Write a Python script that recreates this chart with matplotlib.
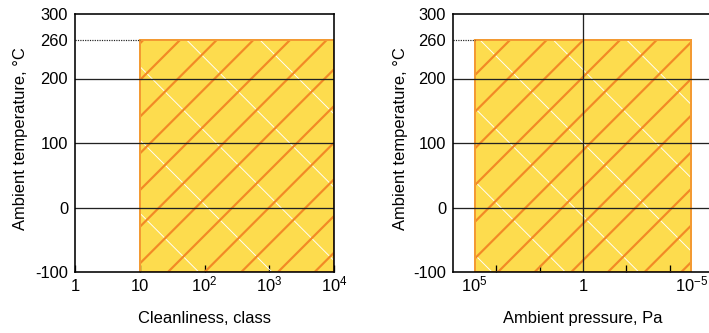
import matplotlib
matplotlib.use("Agg")
import matplotlib.pyplot as plt
from matplotlib.patches import Rectangle

# data
temp_ticks = [-100, 0, 100, 200, 260, 300]
temp_grid = [0, 100, 200]
temp_range = [-100, 260]

clean_ticks = [1, 10, 1e2, 1e3, 1e4]
clean_labels = ["1", "10", "$10^{2}$", "$10^{3}$", "$10^{4}$"]
clean_range = [10, 1e4]

press_ticks = [1e5, 1, 1e-5]
press_labels = ["$10^{5}$", "1", "$10^{-5}$"]
press_minor = [1e4, 1e2, 1e-2, 1e-4]
press_range = [1e5, 1e-5]

DPI = 220
def pt(px):
    return px * 72.0 / DPI

plt.rcParams['font.family'] = ['Liberation Sans', 'DejaVu Sans']
plt.rcParams['mathtext.fontset'] = 'custom'
plt.rcParams['mathtext.rm'] = 'Liberation Sans'
plt.rcParams['mathtext.default'] = 'regular'
plt.rcParams['hatch.linewidth'] = pt(2.2)

FS = pt(16.5)
yellow = '#fddc4e'
orange = '#f28a26'

fig = plt.figure(figsize=(709 / DPI, 333 / DPI), dpi=DPI)
ax1 = fig.add_axes([75 / 709, 61 / 333, 259 / 709, 258 / 333])
ax2 = fig.add_axes([453 / 709, 61 / 333, 260 / 709, 258 / 333])


def region(ax, xr, yr):
    xy = (xr[0], yr[0])
    w = xr[1] - xr[0]
    h = yr[1] - yr[0]
    ax.add_patch(Rectangle(xy, w, h, facecolor=yellow, edgecolor='none', zorder=1))
    wh = Rectangle(xy, w, h, facecolor='none', edgecolor='white', lw=0, hatch='\\', zorder=2)
    if hasattr(wh, 'set_hatch_linewidth'):
        wh.set_hatch_linewidth(pt(0.9))
    ax.add_patch(wh)
    oh = Rectangle(xy, w, h, facecolor='none', edgecolor=orange, lw=0, hatch='//', zorder=3)
    if hasattr(oh, 'set_hatch_linewidth'):
        oh.set_hatch_linewidth(pt(2.2))
    ax.add_patch(oh)
    ax.add_patch(Rectangle(xy, w, h, facecolor='none', edgecolor='#f39a33', lw=pt(2.0), zorder=4))


def style(ax, xlim):
    ax.set_xscale('log')
    ax.set_xlim(*xlim)
    ax.set_ylim(-100, 300)
    ax.set_yticks(temp_ticks)
    ax.set_yticklabels([str(t) for t in temp_ticks])
    for y in temp_grid:
        ax.axhline(y, color='#222222', lw=pt(1.3), zorder=5)
    for s in ax.spines.values():
        s.set_linewidth(pt(1.6))
        s.set_zorder(6)
    ax.tick_params(axis='y', length=0, pad=pt(7), labelsize=FS)
    ax.tick_params(axis='x', which='both', direction='in', labelsize=FS, pad=pt(19))
    ax.tick_params(axis='x', which='major', length=pt(7), width=pt(1.3))
    ax.tick_params(axis='x', which='minor', length=pt(7), width=pt(1.3))
    ax.set_ylabel("Ambient temperature, °C", fontsize=FS, va='center')


# left panel: cleanliness
style(ax1, (1, 1e4))
region(ax1, clean_range, temp_range)
ax1.set_xticks(clean_ticks)
ax1.set_xticklabels(clean_labels)
ax1.xaxis.set_minor_locator(matplotlib.ticker.NullLocator())
ax1.hlines(260, 1, clean_range[0], colors='#222222', linestyles=(0, (1, 1)), lw=pt(1.2), zorder=5)
ax1.set_xlabel("Cleanliness, class", fontsize=FS, va='center')
ax1.xaxis.set_label_coords(0.5, -0.182)
ax1.yaxis.set_label_coords((21 - 75) / 259, 0.517)

# right panel: pressure
style(ax2, (1e6, 1e-6))
region(ax2, [press_range[1], press_range[0]], temp_range)
ax2.set_xticks(press_ticks)
ax2.set_xticklabels(press_labels)
ax2.xaxis.set_minor_locator(matplotlib.ticker.FixedLocator(press_minor))
ax2.xaxis.set_minor_formatter(matplotlib.ticker.NullFormatter())
ax2.tick_params(axis='x', which='major', length=0)
ax2.axvline(1, color='#222222', lw=pt(1.3), zorder=5)
ax2.hlines(260, 1e6, press_range[0], colors='#222222', linestyles=(0, (1, 1)), lw=pt(1.2), zorder=5)
ax2.set_xlabel("Ambient pressure, Pa", fontsize=FS, va='center')
ax2.xaxis.set_label_coords(0.5, -0.182)
ax2.yaxis.set_label_coords((400 - 453) / 260, 0.517)

for ax in (ax1, ax2):
    for lbl in ax.get_xticklabels():
        lbl.set_va('baseline')

fig.savefig("out.png", dpi=DPI)
